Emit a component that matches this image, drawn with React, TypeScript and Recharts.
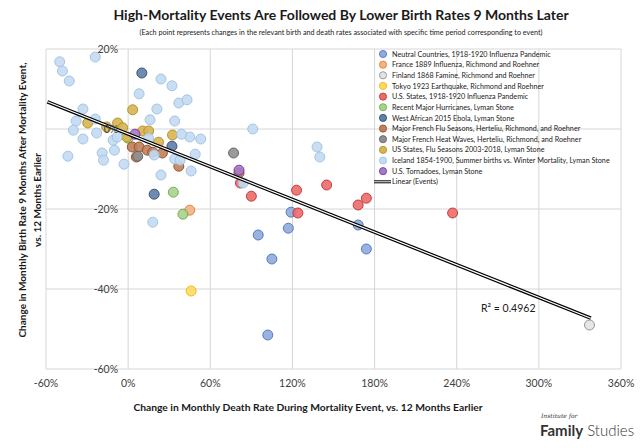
import { ScatterChart, Scatter, XAxis, YAxis, CartesianGrid, Legend } from "recharts";

const FONT = "Lato, 'Liberation Sans', sans-serif";

// plot area in px (inside the 642x448 picture)
const PLOT = { left: 46, top: 49, right: 621, bottom: 369 };
const X_MIN = -60;
const X_MAX = 360;
const X0 = PLOT.left + ((PLOT.right - PLOT.left) * (0 - X_MIN)) / (X_MAX - X_MIN);

const xTicks = [-60, 0, 60, 120, 180, 240, 300, 360];
const yTicks = [-60, -40, -20, 0, 20];

// [change in death rate %, change in birth rate %]
const neutralCountries = [[119, -20.8], [95, -26.5], [117, -24.8], [105, -32.5], [102, -51.5], [168, -24], [174, -30]];
const france1889 = [[45, -20.3]];
const finland1868 = [[337, -49]];
const tokyo1923 = [[46, -40.5]];
const usStates1918 = [[82, -13.5], [90, -16.8], [123, -15.3], [145, -14], [124, -21], [168, -19], [174, -17.3], [237, -21]];
const hurricanes = [[33, -15.8], [40, -21.3], [0, -2.3]];
const ebola = [[10, 14], [32, -4.3], [19, -16.3]];
const frenchFlu = [[3, -4.5], [8, -4.5], [14, -5.3], [18, -5.8], [25, -6], [37, -9.3], [81, -11], [6, -7]];
const heatWaves = [[77, -6], [7, -6.8]];
const usFluSeasons = [[-29.5, 1.5], [-15.7, 0.5], [-7.7, 1.5], [-4, 0.3], [3.3, 4.8], [10.6, -0.5], [15, -0.5], [22.2, -3.3], [32.4, -1.5], [-1, -2]];
const iceland = [
  [-50, 16.8], [-24, 18], [-48, 14.5], [-43, 12], [24, 12.5], [32, 10.8], [8, 8.8], [37, 6.5], [43, 7.3],
  [21, 5], [-33, 5], [-38, 2], [-24, 2.5], [16, 2.3], [34, 2], [-40, -0.3], [-23, -1], [-33, -2.5],
  [-11, -2.8], [-8, -2], [-19, -6], [-18, -7.8], [-44, -6.8], [-3, -8.8], [24, -11.5], [46, -10.5],
  [49, -6.3], [53, -2.5], [45, -2], [39, -1.3], [34, -7.5], [38, -7.8], [19, -6.5], [18, -23.3],
  [91, 0], [138, -4.5], [140, -7], [84, -13.5], [-10, -5.3], [15, -2.3],
];
const tornadoes = [[81, -10.3], [5, -1.3]];

const trendX = [-59, 338];
const trendY = [6.8, -47.3];
const rSquared = "R² = 0.4962";

const toPoints = (arr: number[][]) => arr.map(([x, y]) => ({ x, y }));

const series = [
  { name: "Neutral Countries, 1918-1920 Influenza Pandemic", data: neutralCountries, fill: "#8eaadb", stroke: "#4a72bd" },
  { name: "France 1889 Influenza, Richmond and Roehner", data: france1889, fill: "#f4b183", stroke: "#e07b39" },
  { name: "Finland 1868 Famine, Richmond and Roehner", data: finland1868, fill: "#e3e3e3", stroke: "#8a8a8a" },
  { name: "Tokyo 1923 Earthquake, Richmond and Roehner", data: tokyo1923, fill: "#ffd966", stroke: "#f0b400" },
  { name: "U.S. States, 1918-1920 Influenza Pandemic", data: usStates1918, fill: "#ec6a6a", stroke: "#c03030" },
  { name: "Recent Major Hurricanes, Lyman Stone", data: hurricanes, fill: "#a9d18e", stroke: "#6aa845" },
  { name: "West African 2015 Ebola, Lyman Stone", data: ebola, fill: "#5f7ea8", stroke: "#2e4a73" },
  { name: "Major French Flu Seasons, Herteliu, Richmond, and Roehner", data: frenchFlu, fill: "#c0805a", stroke: "#8e4b25" },
  { name: "Major French Heat Waves, Herteliu, Richmond, and Roehner", data: heatWaves, fill: "#8f8f8f", stroke: "#5e5e5e" },
  { name: "US States, Flu Seasons 2003-2018, Lyman Stone", data: usFluSeasons, fill: "#d8b552", stroke: "#b08c24" },
  { name: "Iceland 1854-1900, Summer births vs. Winter Mortality, Lyman Stone", data: iceland, fill: "#c3daf1", stroke: "#9cc0e4" },
  { name: "U.S. Tornadoes, Lyman Stone", data: tornadoes, fill: "#a678c8", stroke: "#7232a3" },
];

const trend = trendX.map((x, i) => ({ x, y: trendY[i] }));

function Dot(props: any) {
  const { cx, cy, fill, stroke } = props;
  if (cx == null || cy == null) return null;
  return <circle cx={cx} cy={cy} r={5} fill={fill} fillOpacity={0.9} stroke={stroke} strokeWidth={0.9} />;
}

function YTick(props: any) {
  const { y, payload } = props;
  return (
    <text x={X0 - 10} y={y} dy={3.8} textAnchor="end" fontSize={10.5} fill="#404040" fontFamily={FONT}>
      {payload.value}%
    </text>
  );
}

function XTick(props: any) {
  const { x, payload } = props;
  return (
    <text x={x} y={PLOT.bottom + 18} textAnchor="middle" fontSize={10.5} fill="#404040" fontFamily={FONT}>
      {payload.value}%
    </text>
  );
}

function LegendBox() {
  const rowH = 10.65;
  const fs = 7.2;
  return (
    <svg width={262} height={145} style={{ display: "block", overflow: "visible" }}>
      {series.map((s, i) => (
        <g key={s.name}>
          <circle cx={8} cy={7 + i * rowH} r={3.6} fill={s.fill} stroke={s.stroke} strokeWidth={0.8} />
          <text x={17} y={7 + i * rowH} dy={2.6} fontSize={fs} fill="#222" fontFamily={FONT}>
            {s.name}
          </text>
        </g>
      ))}
      <line x1={-1} x2={16} y1={7 + 12 * rowH} y2={7 + 12 * rowH} stroke="#000" strokeWidth={3} />
      <line x1={-1} x2={16} y1={7 + 12 * rowH} y2={7 + 12 * rowH} stroke="#fff" strokeWidth={1} />
      <text x={17} y={7 + 12 * rowH} dy={2.6} fontSize={fs} fill="#222" fontFamily={FONT}>
        Linear (Events)
      </text>
    </svg>
  );
}

export default function App() {
  return (
    <div style={{ position: "absolute", left: 0, top: 0, width: 642, height: 448, background: "#fff", fontFamily: FONT }}>
      <ScatterChart
        width={642}
        height={448}
        margin={{ top: PLOT.top, right: 642 - PLOT.right, bottom: 448 - PLOT.bottom - 30, left: PLOT.left - 30 }}
      >
        <CartesianGrid stroke="#d6d6d6" strokeWidth={1} />
        <XAxis
          type="number"
          dataKey="x"
          domain={[X_MIN, X_MAX]}
          ticks={xTicks}
          interval={0}
          height={30}
          axisLine={false}
          tickLine={false}
          tick={(p: any) => <XTick {...p} />}
          allowDataOverflow
        />
        <YAxis
          type="number"
          dataKey="y"
          domain={[-60, 20]}
          ticks={yTicks}
          interval={0}
          width={30}
          axisLine={false}
          tickLine={false}
          tick={(p: any) => <YTick {...p} />}
          allowDataOverflow
        />
        <Legend
          layout="vertical"
          align="center"
          verticalAlign="middle"
          content={() => <LegendBox />}
          wrapperStyle={{ left: 375, top: 47, width: 262, height: 145 }}
        />
        {series.map((s) => (
          <Scatter
            key={s.name}
            name={s.name}
            data={toPoints(s.data)}
            fill={s.fill}
            stroke={s.stroke}
            shape={<Dot />}
            isAnimationActive={false}
          />
        ))}
        <Scatter
          name="Linear (Events)"
          data={trend}
          line={{ stroke: "#000", strokeWidth: 3.6 }}
          shape={() => null}
          legendType="none"
          isAnimationActive={false}
        />
        <Scatter
          name="trend-inner"
          data={trend}
          line={{ stroke: "#fff", strokeWidth: 1.2 }}
          shape={() => null}
          legendType="none"
          isAnimationActive={false}
        />
      </ScatterChart>

      <svg width={642} height={448} style={{ position: "absolute", left: 0, top: 0, pointerEvents: "none" }}>
        <text x={341} y={20} textAnchor="middle" fontSize={14} fontWeight={700} fill="#1a1a1a" fontFamily={FONT}>
          High-Mortality Events Are Followed By Lower Birth Rates 9 Months Later
        </text>
        <text x={341} y={35} textAnchor="middle" fontSize={7.2} fill="#1a1a1a" fontFamily={FONT}>
          (Each point represents changes in the relevant birth and death rates associated with specific time period corresponding to  event)
        </text>
        <g transform="translate(22,200) rotate(-90)">
          <text textAnchor="middle" dy={3.5} fontSize={10} fontWeight={700} fill="#1a1a1a" fontFamily={FONT}>
            Change in Monthly Birth Rate 9 Months After Mortality Event,
          </text>
        </g>
        <g transform="translate(37,200) rotate(-90)">
          <text textAnchor="middle" dy={3.5} fontSize={10} fontWeight={700} fill="#1a1a1a" fontFamily={FONT}>
            vs. 12 Months Earlier
          </text>
        </g>
        <text x={308} y={411} textAnchor="middle" fontSize={10.3} fontWeight={700} fill="#1a1a1a" fontFamily={FONT}>
          Change in Monthly Death Rate During Mortality Event, vs. 12 Months Earlier
        </text>
        <text x={481} y={312} fontSize={10.5} fill="#1a1a1a" fontFamily={FONT}>
          {rSquared}
        </text>
        <text x={541} y={418} fontSize={6} fontStyle="italic" fill="#333" fontFamily="'DejaVu Serif', serif">
          Institute for
        </text>
        <text x={540} y={436} fontSize={15} fill="#333" fontFamily={FONT}>
          <tspan fontWeight={700}>Family</tspan>
          <tspan fontWeight={300}> Studies</tspan>
        </text>
      </svg>
    </div>
  );
}
